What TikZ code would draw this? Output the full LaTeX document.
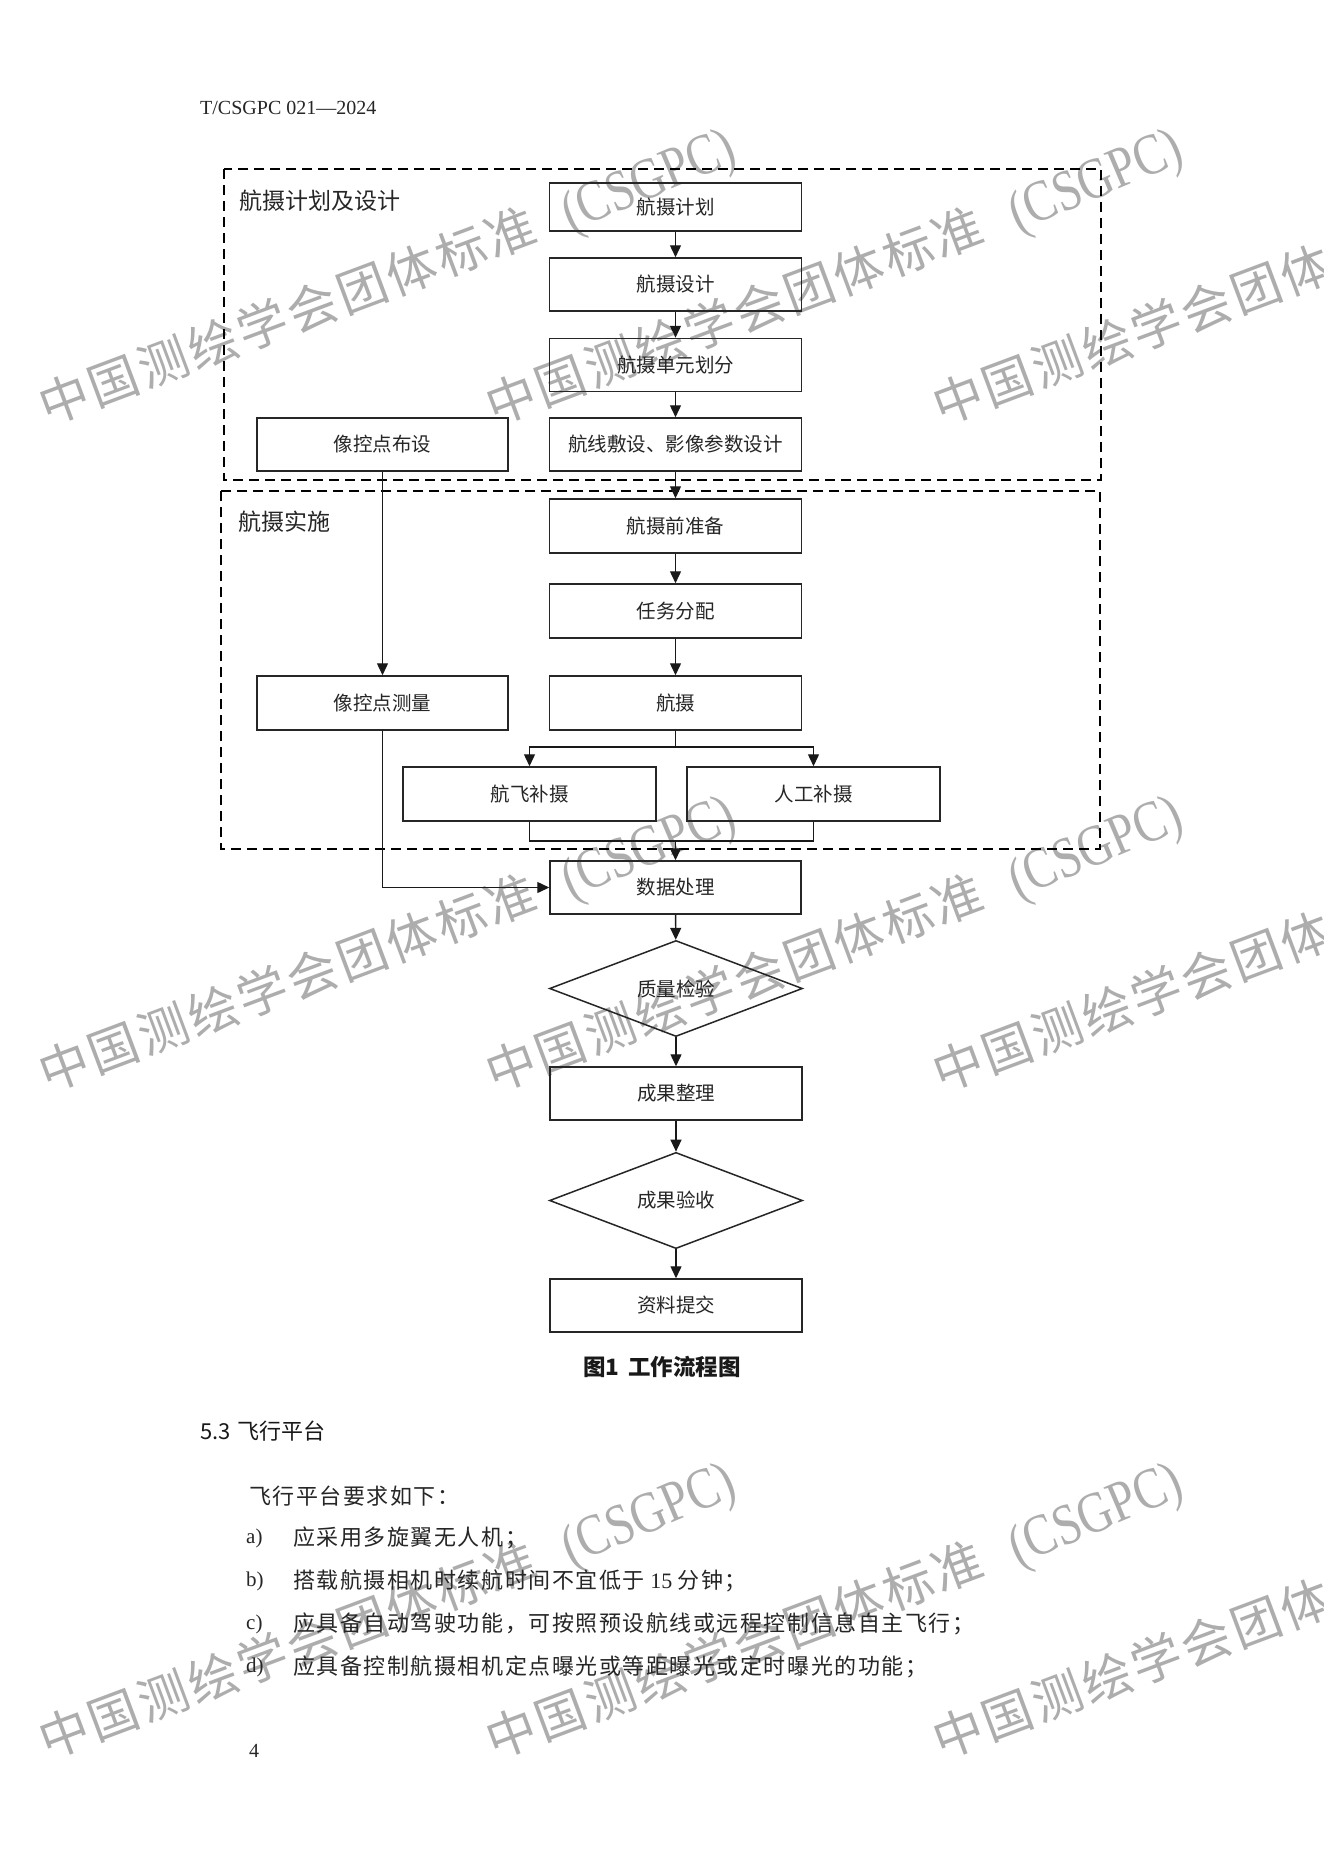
\documentclass[tikz,border=0pt]{standalone}
\usepackage{fontspec}
\setmainfont{Liberation Serif}
\newfontfamily\cjk{Noto Sans CJK SC}
\newfontfamily\cjkb[LetterSpace=7]{Noto Sans CJK SC}
\newfontfamily\cjkw[LetterSpace=6]{Noto Sans CJK SC}
\usetikzlibrary{arrows.meta,shapes.geometric}
\begin{document}
\begin{tikzpicture}[x=1pt,y=-1pt,
  box/.style={draw=black!85, line width=1.5pt, minimum width=252pt, minimum height=53pt,
    inner sep=0pt, font=\cjk\fontsize{19.5}{20}\selectfont, text=black!85},
  dia/.style={diamond, draw=black!85, line width=1.5pt, minimum width=253pt, minimum height=95pt,
    inner sep=0pt, font=\cjk\fontsize{19.5}{20}\selectfont, text=black!85},
  arr/.style={draw=black!90, line width=1.4pt, -{Triangle[length=12pt,width=11pt]}},
  ln/.style={draw=black!90, line width=1.4pt},
  grp/.style={draw=black, line width=2pt, dash pattern=on 10pt off 6pt},
  grplabel/.style={anchor=west, inner sep=0pt, font=\cjk\fontsize{23}{24}\selectfont, text=black!85},
  body/.style={anchor=west, inner sep=0pt, font=\cjkb\fontsize{22}{22}\selectfont, text=black!85},
  itemlab/.style={anchor=west, inner sep=0pt, font=\fontsize{21}{22}\selectfont, text=black!85},
  wm/.style={text=black!32, rotate=20.5, anchor=base west, inner sep=0pt,
    font=\cjkw\fontsize{50}{50}\selectfont},
]
\useasboundingbox (0,0) rectangle (1323,1871);
\fill[white] (0,0) rectangle (1323,1871);

% watermarks
\foreach \dx in {0,447,894} {
  \foreach \dy in {0,667,1334} {
    \node[wm, name=wm-\dx-\dy] at (47+\dx,426+\dy)
      {中国测绘学会团体标准\hspace{30pt}\raisebox{-2pt}{\rotatebox{2.5}{\scalebox{0.82}[1.0]{\rmfamily\fontsize{58}{58}\selectfont (CSGPC)}}}};
  }
}

% header
\node[anchor=base west, inner sep=0pt, font=\fontsize{20}{22}\selectfont, text=black!85] (hdr) at (200,114) {T/CSGPC 021—2024};

% group frames
\draw[grp] (224,169) rectangle (1101,480);
\draw[grp] (221,491) rectangle (1100,849);
\node[grplabel] (g1) at (239,201) {航摄计划及设计};
\node[grplabel] (g2) at (238,522) {航摄实施};

% main column
\node[box, minimum height=48pt] (n1) at (675.5,207) {航摄计划};
\node[box] (n2) at (675.5,284.5) {航摄设计};
\node[box] (n3) at (675.5,365) {航摄单元划分};
\node[box] (n4) at (675.5,444.5) {航线敷设、影像参数设计};
\node[box, minimum width=251pt] (l1) at (382.5,444.5) {像控点布设};
\node[box, minimum height=54pt] (n5) at (675.5,526) {航摄前准备};
\node[box, minimum height=54pt] (n6) at (675.5,611) {任务分配};
\node[box, minimum height=54pt] (n7) at (675.5,703) {航摄};
\node[box, minimum width=251pt, minimum height=54pt] (l2) at (382.5,703) {像控点测量};
\node[box, minimum width=253pt, minimum height=54pt] (b1) at (529.5,794) {航飞补摄};
\node[box, minimum width=253pt, minimum height=54pt] (b2) at (813.5,794) {人工补摄};
\node[box, minimum width=251pt] (n8) at (675.5,887.5) {数据处理};
\node[dia] (d1) at (676,988.5) {质量检验};
\node[box] (n9) at (676,1093.5) {成果整理};
\node[dia] (d2) at (676,1200.5) {成果验收};
\node[box] (n10) at (676,1305.5) {资料提交};

% connectors
\draw[arr] (n1) -- (n2);
\draw[arr] (n2) -- (n3);
\draw[arr] (n3) -- (n4);
\draw[arr] (n4) -- (n5);
\draw[arr] (n5) -- (n6);
\draw[arr] (n6) -- (n7);
\draw[arr] (l1) -- (l2);
\coordinate (br) at (675.5,747);
\draw[ln] (n7.south) -- (br);
\draw[arr] (br) -| (b1.north);
\draw[arr] (br) -| (b2.north);
\coordinate (mg) at (675.5,841);
\draw[ln] (b1.south) |- (mg) -| (b2.south);
\draw[arr] (mg) -- (n8.north);
\draw[arr] (l2.south) |- (n8.west);
\draw[arr] (n8) -- (d1);
\draw[arr] (d1) -- (n9);
\draw[arr] (n9) -- (d2);
\draw[arr] (d2) -- (n10);

% caption and body text
\node[inner sep=0pt, font=\cjk\bfseries\fontsize{22.5}{23}\selectfont, text=black!90] (cap) at (662,1367) {图1\hspace{0.4em}工作流程图};
\node[anchor=west, inner sep=0pt, font=\cjk\fontsize{22}{22}\selectfont, text=black!90] (sec) at (200,1431) {5.3\hspace{0.3em}飞行平台};
\node[body] (p0) at (249,1496) {飞行平台要求如下：};
\node[itemlab] (ia) at (246,1538) {a)};
\node[body] (ta) at (293,1538) {应采用多旋翼无人机；};
\node[itemlab] (ib) at (246,1581) {b)};
\node[body] (tb) at (293,1581) {搭载航摄相机时续航时间不宜低于{\rmfamily\ 15\ }分钟；};
\node[itemlab] (ic) at (246,1624) {c)};
\node[body] (tc) at (293,1624) {应具备自动驾驶功能，可按照预设航线或远程控制信息自主飞行；};
\node[itemlab] (id) at (246,1667) {d)};
\node[body] (td) at (293,1667) {应具备控制航摄相机定点曝光或等距曝光或定时曝光的功能；};
\node[anchor=west, inner sep=0pt, font=\fontsize{20}{22}\selectfont, text=black!85] (pg) at (249,1751) {4};
\end{tikzpicture}
\end{document}
